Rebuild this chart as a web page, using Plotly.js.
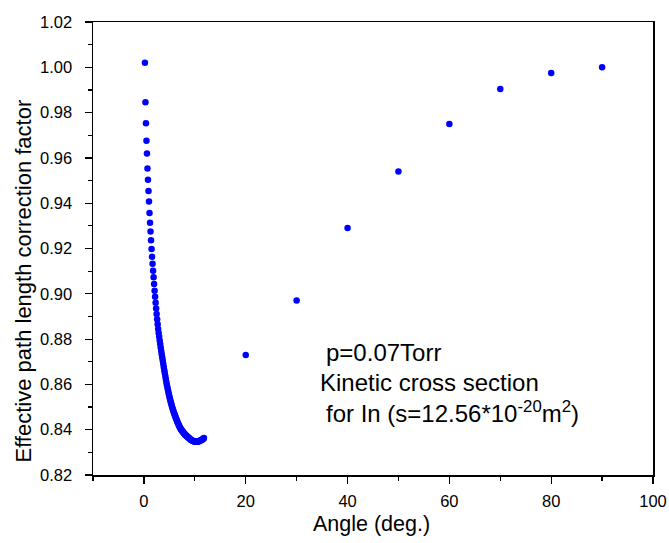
<!DOCTYPE html>
<html>
<head>
<meta charset="utf-8">
<script src="https://cdn.plot.ly/plotly-3.0.1.min.js"></script>
<style>html,body{margin:0;padding:0;background:#fff;}#chart{width:669px;height:543px;}</style>
</head>
<body>
<div id="chart"></div>
<script>
// Dense calculated curve (angle in degrees, correction factor)
const curveAngle = [0.2,0.3,0.4,0.5,0.6,0.7,0.8,0.9,1.0,1.1,1.2,1.3,1.4,1.5,1.6,1.7,1.8,1.9,2.0,2.1,2.2,2.3,2.4,2.5,2.6,2.7,2.8,2.9,3.0,3.1,3.2,3.3,3.4,3.5,3.6,3.7,3.8,3.9,4.0,4.1,4.2,4.3,4.4,4.5,4.6,4.7,4.8,4.9,5.0,5.1,5.2,5.3,5.4,5.5,5.6,5.7,5.8,5.9,6.0,6.1,6.2,6.3,6.4,6.5,6.6,6.7,6.8,6.9,7.0,7.1,7.2,7.3,7.4,7.5,7.6,7.7,7.8,7.9,8.0,8.1,8.2,8.3,8.4,8.5,8.6,8.7,8.8,8.9,9.0,9.1,9.2,9.3,9.4,9.5,9.6,9.7,9.8,9.9,10.0,10.1,10.2,10.3,10.4,10.5,10.6,10.7,10.8,10.9,11.0,11.1,11.2,11.3,11.4,11.5,11.6,11.7,11.8];
const curveFactor = [1.002,0.9846,0.9753,0.9676,0.9619,0.9553,0.9504,0.9454,0.9407,0.9357,0.9314,0.9275,0.9236,0.9198,0.9164,0.9133,0.9102,0.9073,0.9043,0.9014,0.8987,0.8961,0.8935,0.8911,0.8888,0.8866,0.8845,0.8827,0.8810,0.8794,0.8778,0.8763,0.8748,0.8733,0.8719,0.8705,0.8691,0.8677,0.8663,0.8650,0.8637,0.8624,0.8612,0.8600,0.8589,0.8578,0.8567,0.8557,0.8547,0.8538,0.8529,0.8520,0.8512,0.8504,0.8496,0.8489,0.8482,0.8475,0.8469,0.8463,0.8457,0.8451,0.8445,0.8439,0.8433,0.8428,0.8423,0.8418,0.8413,0.8409,0.8405,0.8401,0.8398,0.8395,0.8392,0.8389,0.8386,0.8383,0.8381,0.8378,0.8376,0.8374,0.8372,0.8370,0.8368,0.8366,0.8364,0.8362,0.8360,0.8358,0.8356,0.8355,0.8353,0.8352,0.8351,0.8350,0.8349,0.8348,0.8348,0.8347,0.8347,0.8347,0.8347,0.8347,0.8348,0.8348,0.8349,0.8350,0.8351,0.8352,0.8353,0.8354,0.8356,0.8357,0.8359,0.8361,0.8363];
// Coarse angles
const coarseAngle = [20,30,40,50,60,70,80,90];
const coarseFactor = [0.873,0.897,0.929,0.954,0.975,0.9904,0.9975,1.000];

const xTitle = 'Angle (deg.)';
const yTitle = 'Effective path length correction factor';
const noteLines = ['p=0.07Torr', 'Kinetic cross section', 'for In (s=12.56*10<sup>-20</sup>m<sup>2</sup>)'];

const FONT = 'Arial, "Liberation Sans", sans-serif';
const marker = {color:'#0000FF', size:6.5, symbol:'circle'};

const traces = [
  {x:curveAngle, y:curveFactor, type:'scatter', mode:'markers', marker:marker, hoverinfo:'none'},
  {x:coarseAngle, y:coarseFactor, type:'scatter', mode:'markers', marker:marker, hoverinfo:'none'}
];

const axisCommon = {
  showgrid:false, zeroline:false, showline:true, linecolor:'#000', linewidth:1.5,
  mirror:true, ticks:'outside', ticklen:7, tickwidth:1.2, tickcolor:'#000',
  tickfont:{family:FONT, size:16.5, color:'#000'},
  minor:{ticks:'outside', ticklen:4, tickwidth:1.2, tickcolor:'#000', showgrid:false}
};

// plot box in pixels
const L = 92.5, R = 652.7, T = 22, B = 475;
const px = (x) => (x - L) / (R - L);
const py = (y) => (B - y) / (B - T);

const layout = {
  width:669, height:543,
  margin:{l:L, r:669-R, t:T, b:543-B},
  paper_bgcolor:'#fff', plot_bgcolor:'#fff',
  showlegend:false,
  font:{family:FONT, color:'#000'},
  xaxis:Object.assign({}, axisCommon, {
    range:[-10,100], tick0:0, dtick:20, ticklabelstandoff:4,
    minor:Object.assign({}, axisCommon.minor, {dtick:10, tick0:0})
  }),
  yaxis:Object.assign({}, axisCommon, {
    range:[0.82,1.02], tick0:0.82, dtick:0.02, tickformat:'.2f', ticklabelstandoff:9,
    minor:Object.assign({}, axisCommon.minor, {dtick:0.01, tick0:0.82})
  }),
  annotations:[
    {xref:'paper', yref:'paper', x:px(371), y:py(524), xanchor:'center', yanchor:'middle', text:xTitle, showarrow:false, font:{family:FONT, size:21.5, color:'#000'}},
    {xref:'paper', yref:'paper', x:px(22), y:py(281), xanchor:'center', yanchor:'middle', textangle:-90, text:yTitle, showarrow:false, font:{family:FONT, size:22, color:'#000'}},
    {xref:'paper', yref:'paper', x:px(324), y:py(352), xanchor:'left', yanchor:'middle', text:noteLines[0], showarrow:false, font:{family:FONT, size:24, color:'#000'}},
    {xref:'paper', yref:'paper', x:px(318), y:py(382), xanchor:'left', yanchor:'middle', text:noteLines[1], showarrow:false, font:{family:FONT, size:24, color:'#000'}},
    {xref:'paper', yref:'paper', x:px(324), y:py(412), xanchor:'left', yanchor:'middle', text:noteLines[2], showarrow:false, font:{family:FONT, size:24, color:'#000'}}
  ]
};

Plotly.newPlot('chart', traces, layout, {staticPlot:true, displayModeBar:false});
</script>
</body>
</html>
